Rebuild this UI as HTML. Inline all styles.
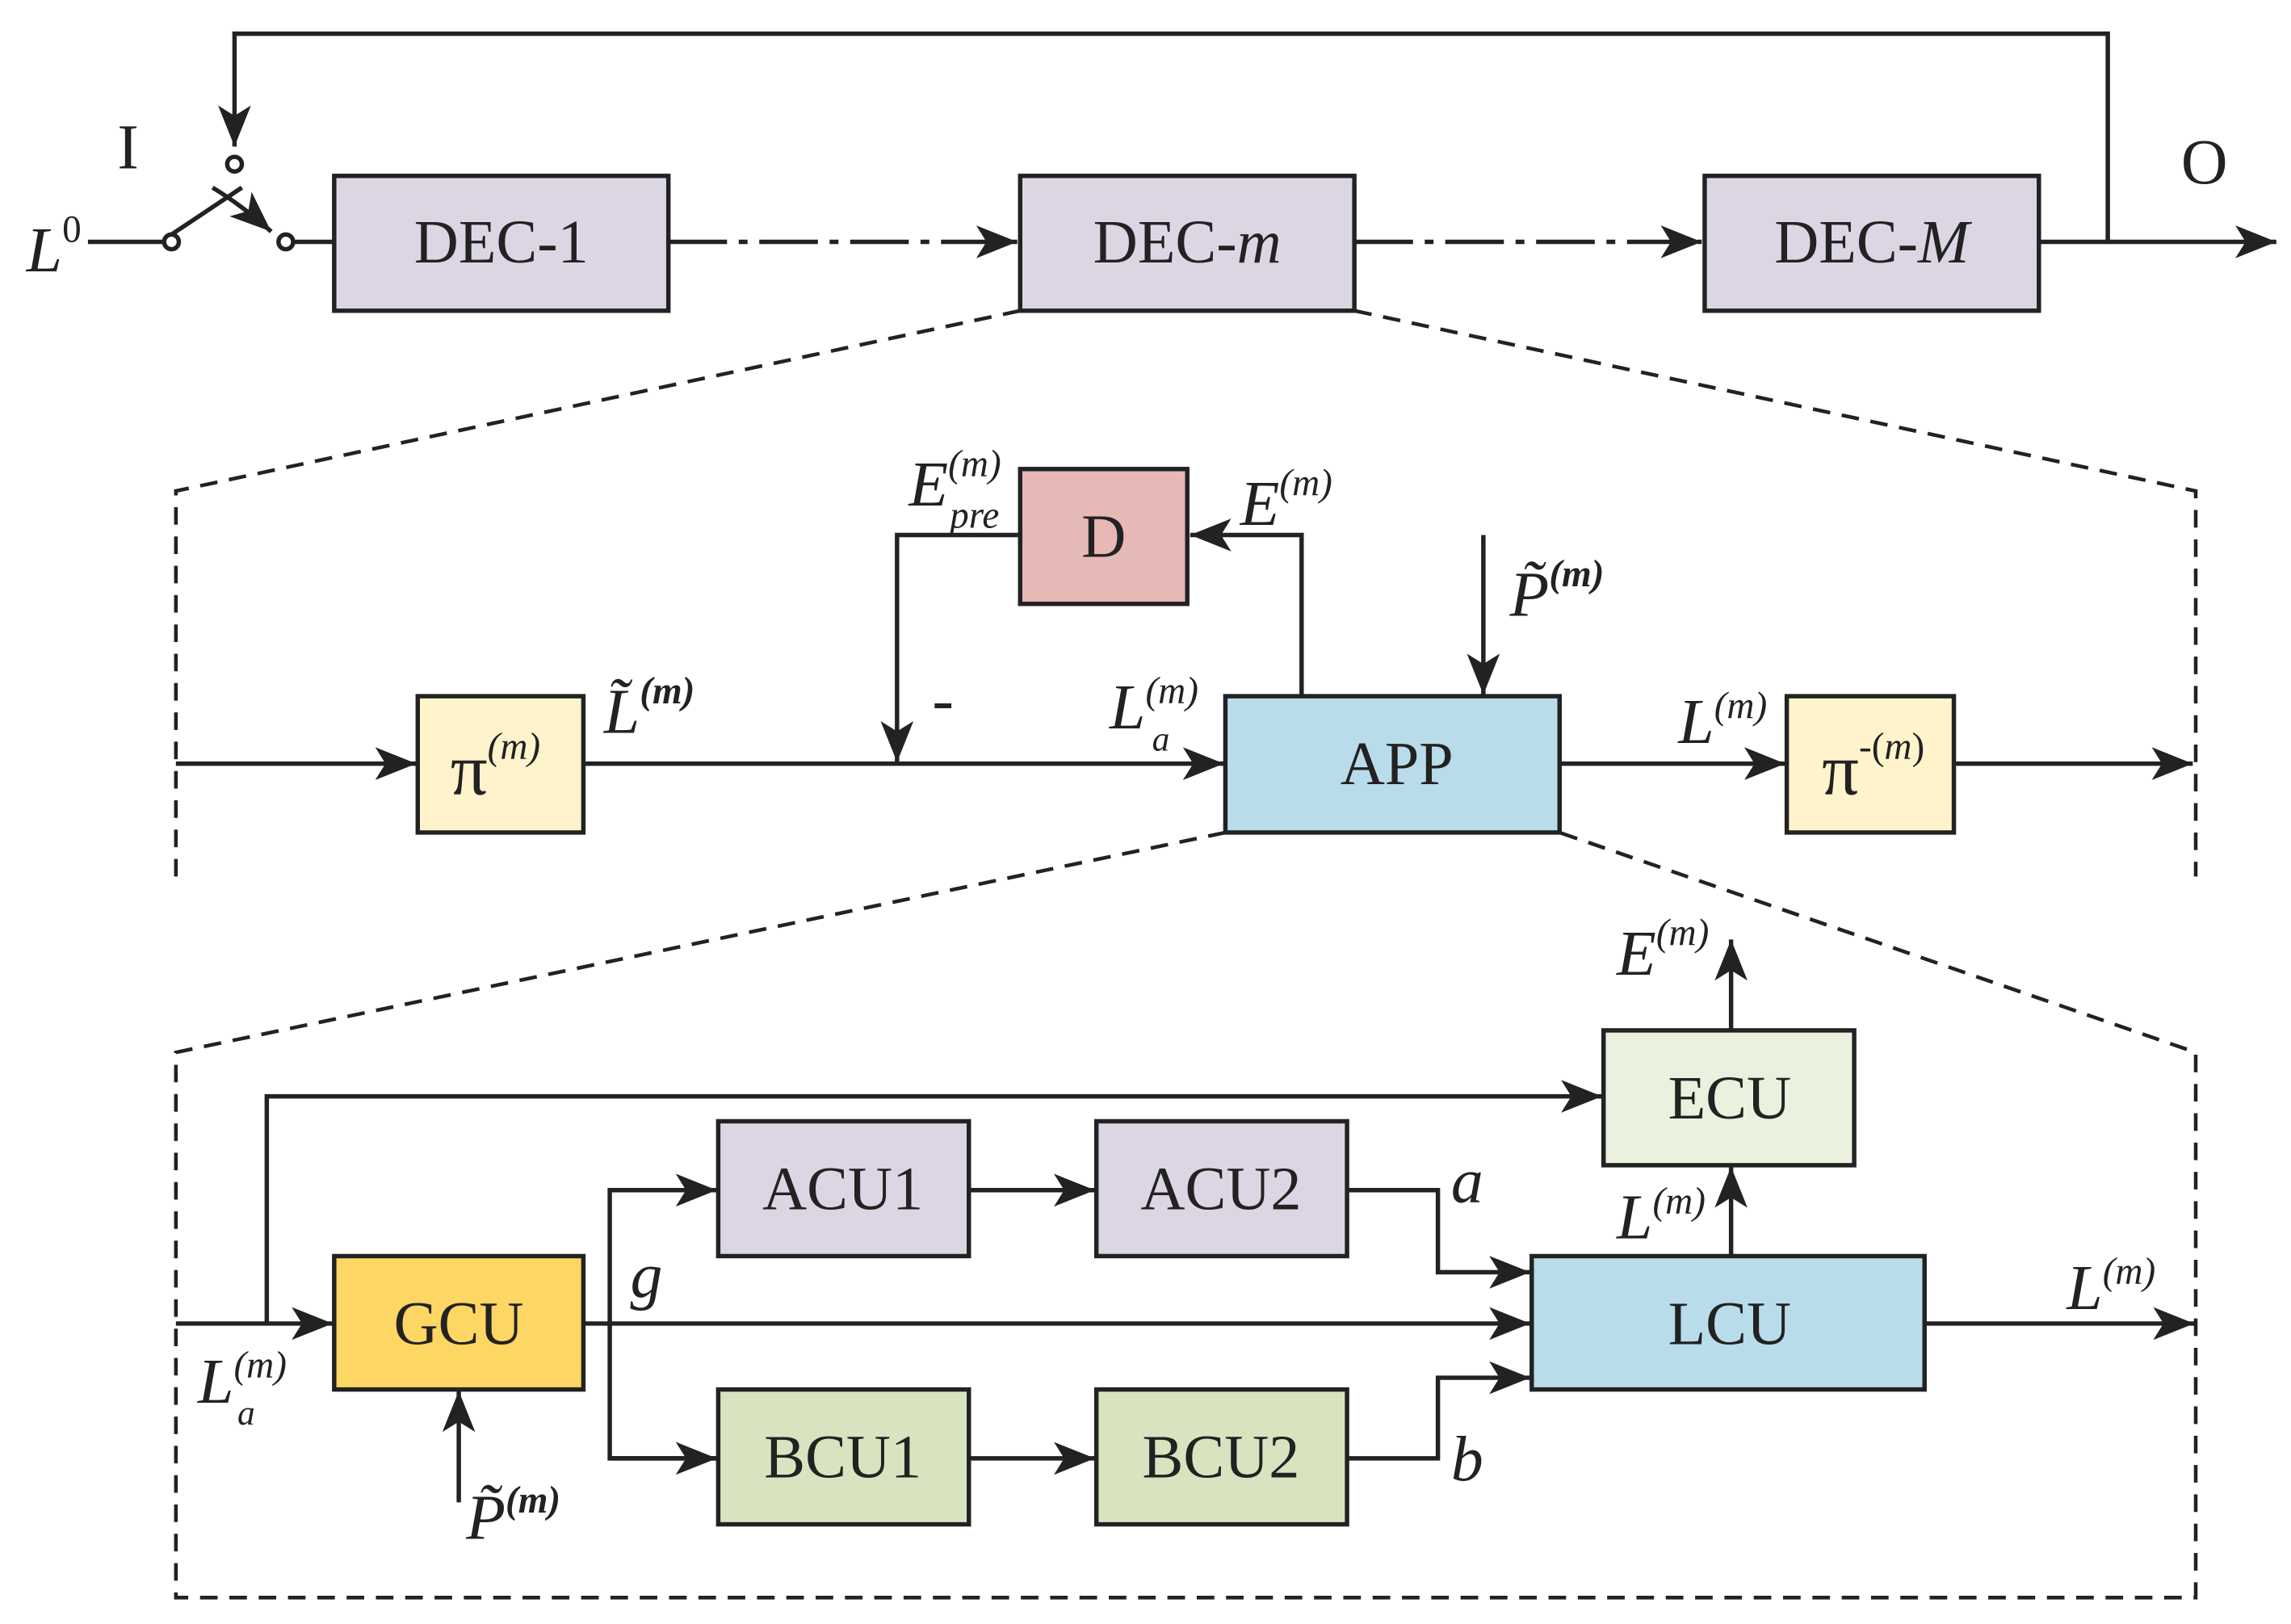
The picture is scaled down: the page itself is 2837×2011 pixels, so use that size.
<!DOCTYPE html>
<html><head><meta charset="utf-8"><style>html,body{margin:0;padding:0;background:#fff}svg{display:block}
text{font-family:"Liberation Serif",serif;fill:#222}</style></head><body>
<svg width="2837" height="2011" viewBox="0 0 1563 1108" preserveAspectRatio="none" xmlns="http://www.w3.org/2000/svg">
<defs>
<marker id="b" viewBox="0 0 10 10" refX="10" refY="5" markerWidth="28" markerHeight="28" markerUnits="userSpaceOnUse" orient="auto"><path d="M0,1 L10,5 L0,9 L2.5,5 z" fill="#222"/></marker></defs>
<g stroke="#222" stroke-width="3" fill="none">
<polyline points="1438,165 1438,23 160,23 160,100" marker-end="url(#b)"/>
<line x1="60" y1="165" x2="112" y2="165"/>
<circle cx="117" cy="165" r="5" fill="#fff"/><circle cx="160" cy="112" r="5" fill="#fff"/><circle cx="195" cy="165" r="5" fill="#fff"/>
<line x1="117" y1="160" x2="165" y2="128"/>
<path d="M145,128 Q165,140 185,158" marker-end="url(#b)"/>
<line x1="200" y1="165" x2="228" y2="165"/>
<line x1="456" y1="165" x2="694" y2="165" stroke-dasharray="40,8,6,8" marker-end="url(#b)"/>
<line x1="924" y1="165" x2="1161" y2="165" stroke-dasharray="40,8,6,8" marker-end="url(#b)"/>
<line x1="1391" y1="165" x2="1553" y2="165" marker-end="url(#b)"/>
<g stroke-dasharray="12,8" stroke-width="2.5">
<polyline points="696,212 120,335 120,598"/><polyline points="924,212 1498,335 1498,598"/>
<polyline points="836,568 120,718 120,1090 1498,1090 1498,718 1064,568"/></g>
<line x1="120" y1="521" x2="284" y2="521" marker-end="url(#b)"/>
<line x1="398" y1="521" x2="835" y2="521" marker-end="url(#b)"/>
<polyline points="888,475 888,365 812,365" marker-end="url(#b)"/>
<polyline points="696,365 612,365 612,520" marker-end="url(#b)"/>
<line x1="1012" y1="365" x2="1012" y2="474" marker-end="url(#b)"/>
<line x1="1064" y1="521" x2="1218" y2="521" marker-end="url(#b)"/>
<line x1="1333" y1="521" x2="1496" y2="521" marker-end="url(#b)"/>
<line x1="120" y1="903" x2="227" y2="903" marker-end="url(#b)"/>
<polyline points="182,903 182,748 1093,748" marker-end="url(#b)"/>
<line x1="398" y1="903" x2="1044" y2="903" marker-end="url(#b)"/>
<polyline points="489,812 416,812 416,995 489,995" />
<line x1="416" y1="812" x2="489" y2="812" marker-end="url(#b)"/>
<line x1="416" y1="995" x2="489" y2="995" marker-end="url(#b)"/>
<line x1="661" y1="812" x2="747" y2="812" marker-end="url(#b)"/>
<line x1="661" y1="995" x2="747" y2="995" marker-end="url(#b)"/>
<polyline points="919,812 981,812 981,868 1044,868" marker-end="url(#b)"/>
<polyline points="919,995 981,995 981,940 1044,940" marker-end="url(#b)"/>
<line x1="1181" y1="857" x2="1181" y2="796" marker-end="url(#b)"/>
<line x1="1181" y1="703" x2="1181" y2="641" marker-end="url(#b)"/>
<line x1="1313" y1="903" x2="1497" y2="903" marker-end="url(#b)"/>
<line x1="313" y1="1025" x2="313" y2="949" marker-end="url(#b)"/>
<rect x="228" y="120" width="228" height="92" fill="#dcd6e4"/>
<rect x="696" y="120" width="228" height="92" fill="#dcd6e4"/>
<rect x="1163" y="120" width="228" height="92" fill="#dcd6e4"/>
<rect x="285" y="475" width="113" height="93" fill="#fff3cc"/>
<rect x="836" y="475" width="228" height="93" fill="#b8dcea"/>
<rect x="696" y="320" width="114" height="92" fill="#e6b8b6"/>
<rect x="1219" y="475" width="114" height="93" fill="#fff3cc"/>
<rect x="228" y="857" width="170" height="91" fill="#fdd663"/>
<rect x="1094" y="703" width="171" height="92" fill="#eaf1de"/>
<rect x="490" y="765" width="171" height="92" fill="#dcd6e4"/>
<rect x="748" y="765" width="171" height="92" fill="#dcd6e4"/>
<rect x="490" y="948" width="171" height="92" fill="#d8e4c0"/>
<rect x="748" y="948" width="171" height="92" fill="#d8e4c0"/>
<rect x="1045" y="857" width="268" height="91" fill="#b8dcea"/>
</g>
<g font-size="42" text-anchor="middle">
<text x="342" y="179">DEC-1</text>
<text x="810" y="179">DEC-<tspan font-style="italic">m</tspan></text>
<text x="1277" y="179">DEC-<tspan font-style="italic">M</tspan></text>
<text x="953" y="535">APP</text>
<text x="753" y="380">D</text>
<text x="313" y="917">GCU</text>
<text x="1180" y="763">ECU</text>
<text x="575" y="825">ACU1</text>
<text x="833" y="825">ACU2</text>
<text x="575" y="1008">BCU1</text>
<text x="833" y="1008">BCU2</text>
<text x="1180" y="917">LCU</text>
<text x="338" y="542"><tspan font-size="50">π</tspan><tspan font-size="26" font-style="italic" dy="-24">(m)</tspan></text>
<text x="1278" y="542"><tspan font-size="50">π</tspan><tspan font-size="26" dy="-24">-(</tspan><tspan font-size="26" font-style="italic">m</tspan><tspan font-size="26">)</tspan></text>
</g>
<g font-size="44">
<text x="80" y="115">I</text>
<text x="1488" y="125">O</text>
<text x="18" y="185" font-style="italic">L<tspan font-size="26" font-style="normal" dy="-20">0</tspan></text>
<text x="412" y="500" font-style="italic">L̃<tspan font-size="26" font-weight="bold" dy="-20">(m)</tspan></text>
<text x="620" y="345" font-style="italic">E<tspan font-size="26" dy="-20">(m)</tspan></text>
<text x="648" y="360" font-size="26" font-style="italic">pre</text>
<text x="846" y="358" font-style="italic">E<tspan font-size="26" dy="-20">(m)</tspan></text>
<text x="1030" y="420" font-style="italic">P̃<tspan font-size="26" font-weight="bold" dy="-20">(m)</tspan></text>
<text x="636" y="492">-</text>
<text x="757" y="497" font-style="italic">L<tspan font-size="26" dy="-17">(m)</tspan></text>
<text x="786" y="512" font-size="24" font-style="italic">a</text>
<text x="1145" y="507" font-style="italic">L<tspan font-size="26" dy="-17">(m)</tspan></text>
<text x="1103" y="665" font-style="italic">E<tspan font-size="26" dy="-20">(m)</tspan></text>
<text x="1103" y="845" font-style="italic">L<tspan font-size="26" dy="-17">(m)</tspan></text>
<text x="1410" y="893" font-style="italic">L<tspan font-size="26" dy="-17">(m)</tspan></text>
<text x="135" y="957" font-style="italic">L<tspan font-size="26" dy="-17">(m)</tspan></text>
<text x="162" y="972" font-size="24" font-style="italic">a</text>
<text x="318" y="1050" font-style="italic">P̃<tspan font-size="26" font-weight="bold" dy="-18">(m)</tspan></text>
<text x="430" y="885" font-style="italic">g</text>
<text x="990" y="820" font-style="italic">a</text>
<text x="990" y="1010" font-style="italic">b</text>
</g>
</svg>
</body></html>
